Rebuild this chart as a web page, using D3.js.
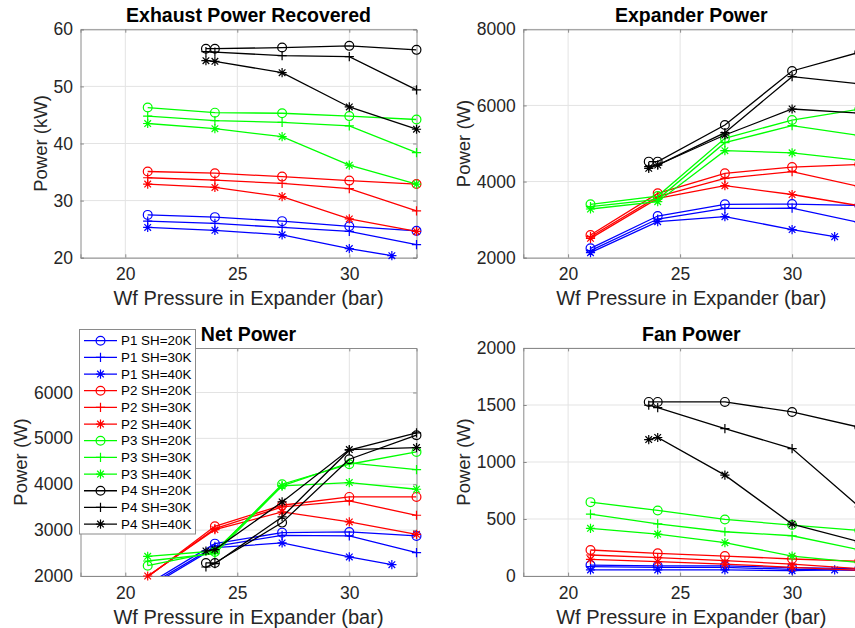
<!DOCTYPE html>
<html><head><meta charset="utf-8">
<script src="https://cdn.jsdelivr.net/npm/d3@7"></script>
<style>body{margin:0;background:#fff}svg{display:block}</style>
</head><body><svg id="c" width="855" height="628"></svg>
<script>
// ---------------- DATA ----------------
const seriesNames = ["P1 SH=20K","P1 SH=30K","P1 SH=40K","P2 SH=20K","P2 SH=30K","P2 SH=40K",
                     "P3 SH=20K","P3 SH=30K","P3 SH=40K","P4 SH=20K","P4 SH=30K","P4 SH=40K"];
const groupColors = ["#0000ff","#ff0000","#00ff00","#000000"];
const markerTypes = ["circle","plus","star"];
const xTicks = [20,25,30];
const xStd = [21,24,27,30,33];
const xP4 = [23.6,24,27,30,33];
const xP1SH40 = [21,24,27,30,31.9];

// Exhaust Power Recovered (kW) ; rows: SH=20K, 30K, 40K
const exhaustP1 = [[27.5,27.1,26.4,25.5,24.7],[26.4,26.0,25.3,24.6,22.3],[25.3,24.8,24.0,21.6,20.35]];
const exhaustP2 = [[35.1,34.8,34.2,33.5,32.9],[34.0,33.6,33.0,32.1,28.2],[32.9,32.3,30.7,26.8,24.6]];
const exhaustP3 = [[46.3,45.4,45.3,44.8,44.2],[44.8,44.0,43.7,43.1,38.4],[43.5,42.6,41.2,36.2,32.9]];
const exhaustP4 = [[56.6,56.6,56.8,57.1,56.4],[56.1,56.0,55.4,55.2,49.4],[54.5,54.4,52.4,46.4,42.5]];
const exhaustTicks = [20,30,40,50,60];

// Expander Power (W)
const expanderP1 = [[2245,3095,3401,3410,3370],[2184,3016,3296,3300,2925],[2131,2946,3077,2740,2552]];
const expanderP2 = [[2596,3690,4216,4380,4450],[2552,3603,4085,4260,3866],[2508,3559,3892,3660,3366]];
const expanderP3 = [[3401,3620,5136,5617,5900],[3340,3533,5022,5468,5208],[3279,3471,4812,4755,4556]];
const expanderP4 = [[4523,4523,5486,6905,7395],[4391,4435,5285,6756,6570],[4347,4435,5223,5906,5800]];
const expanderTicks = [2000,4000,6000,8000];

// Net Power (W)
const netP1 = [[1820,2705,2945,2960,2873],[1780,2647,2887,2873,2509],[1740,2618,2720,2415,2247]];
const netP2 = [[1980,3084,3542,3724,3724],[1990,3033,3505,3636,3324],[2000,3011,3396,3178,2909]];
const netP3 = [[2225,2524,4000,4436,4705],[2327,2487,3964,4465,4320],[2429,2545,3964,4036,3891]];
const netP4 = [[2284,2284,3164,4545,5069],[2196,2269,3287,4742,5120],[2545,2575,3615,4756,4800]];
const netTicks = [2000,3000,4000,5000,6000];

// Fan Power (W)
const fanP1 = [[96,88,88,73,65],[82,76,76,58,50],[53,53,53,47,53]];
const fanP2 = [[228,199,175,149,130],[184,161,134,105,65],[146,126,105,76,50]];
const fanP3 = [[648,575,496,447,400],[543,458,388,353,230],[418,368,292,175,118]];
const fanP4 = [[1527,1527,1527,1439,1305],[1498,1477,1293,1118,606],[1197,1215,885,455,300]];
const fanTicks = [0,500,1000,1500,2000];

// ---------------- LAYOUT ----------------
const svg = d3.select("#c");
const FONT = "'Liberation Sans', Arial, Helvetica, sans-serif";
const xDomain = [18,33];
const cols = [[80.5,416.5],[523.3,859.3]];
const rows = [[29.3,257.7],[348,576]];

function xsFor(g, k){ if(g===3) return xP4; if(g===0 && k===2) return xP1SH40; return xStd; }

const panels = [
  {title:"Exhaust Power Recovered", ylabel:"Power (kW)", ydom:[20,60], ticks:exhaustTicks, data:[exhaustP1,exhaustP2,exhaustP3,exhaustP4], c:0, r:0, ylx:40.7},
  {title:"Expander Power", ylabel:"Power (W)", ydom:[2000,8000], ticks:expanderTicks, data:[expanderP1,expanderP2,expanderP3,expanderP4], c:1, r:0, ylx:463},
  {title:"Net Power", ylabel:"Power (W)", ydom:[2000,6970], ticks:netTicks, data:[netP1,netP2,netP3,netP4], c:0, r:1, ylx:20.5},
  {title:"Fan Power", ylabel:"Power (W)", ydom:[0,2000], ticks:fanTicks, data:[fanP1,fanP2,fanP3,fanP4], c:1, r:1, ylx:463}
];

function markerPath(type, s){
  const a = s, d = s*0.72;
  if(type==="plus") return `M${-a},0L${a},0M0,${-a}L0,${a}`;
  if(type==="star") return `M${-a},0L${a},0M0,${-a}L0,${a}M${-d},${-d}L${d},${d}M${-d},${d}L${d},${-d}`;
  return null;
}
function drawMarker(g, type, color, cx, cy){
  if(type==="circle"){
    g.append("circle").attr("cx",cx).attr("cy",cy).attr("r",4.4)
      .attr("fill","none").attr("stroke",color).attr("stroke-width",1.2);
  } else {
    g.append("path").attr("d",markerPath(type,4.6)).attr("transform",`translate(${cx},${cy})`)
      .attr("fill","none").attr("stroke",color).attr("stroke-width",1.2);
  }
}

const defs = svg.append("defs");
panels.forEach((p,pi)=>{
  const [x0,x1] = cols[p.c], [y0,y1] = rows[p.r];
  const x = d3.scaleLinear().domain(xDomain).range([x0,x1]);
  const y = d3.scaleLinear().domain(p.ydom).range([y1,y0]);
  const g = svg.append("g");
  defs.append("clipPath").attr("id","clip"+pi).append("rect")
    .attr("x",x0).attr("y",y0).attr("width",x1-x0).attr("height",y1-y0);

  // grid
  g.append("g").selectAll("line").data(xTicks).join("line")
    .attr("x1",d=>x(d)).attr("x2",d=>x(d)).attr("y1",y0).attr("y2",y1)
    .attr("stroke","#e3e3e3").attr("stroke-width",1);
  g.append("g").selectAll("line").data(p.ticks).join("line")
    .attr("x1",x0).attr("x2",x1).attr("y1",d=>y(d)).attr("y2",d=>y(d))
    .attr("stroke","#e3e3e3").attr("stroke-width",1);

  // axes via d3 axis (inner ticks)
  const axB = d3.axisBottom(x).tickValues(xTicks).tickSize(-3.4).tickPadding(7).tickFormat(d3.format("d"));
  const axL = d3.axisLeft(y).tickValues(p.ticks).tickSize(-3.4).tickPadding(7.5).tickFormat(d3.format("d"));
  const axT = d3.axisTop(x).tickValues(xTicks).tickSize(-3.4).tickFormat("");
  const axR = d3.axisRight(y).tickValues(p.ticks).tickSize(-3.4).tickFormat("");
  const style = sel => {
    sel.selectAll("path.domain").attr("stroke","#8a8a8a").attr("stroke-width",1);
    sel.selectAll(".tick line").attr("stroke","#8a8a8a");
    sel.selectAll(".tick text").attr("fill","#262626").attr("font-family",FONT).attr("font-size",17.5);
  };
  g.append("g").attr("transform",`translate(0,${y1})`).call(axB).call(style)
    .selectAll(".tick text").attr("dy","0.9em");
  g.append("g").attr("transform",`translate(${x0},0)`).call(axL).call(style);
  g.append("g").attr("transform",`translate(0,${y0})`).call(axT).call(style);
  g.append("g").attr("transform",`translate(${x1},0)`).call(axR).call(style);

  // series
  const sg = g.append("g");
  p.data.forEach((grp,gi)=>{
    grp.forEach((vals,k)=>{
      const xs = xsFor(gi,k);
      const pts = vals.map((v,i)=>[xs[i],v]);
      const color = groupColors[gi];
      sg.append("path").datum(pts)
        .attr("clip-path",`url(#clip${pi})`)
        .attr("d",d3.line().x(d=>x(d[0])).y(d=>y(d[1])))
        .attr("fill","none").attr("stroke",color).attr("stroke-width",1.3);
      const mg = sg.append("g");
      pts.forEach(d=>{
        if(d[1] < p.ydom[0]-1e-9 || d[1] > p.ydom[1] || d[0] > xDomain[1]) return;
        drawMarker(mg, markerTypes[k], color, x(d[0]), y(d[1]));
      });
    });
  });

  // title
  g.append("text").attr("x",(x0+x1)/2).attr("y",y0-7).attr("text-anchor","middle")
    .attr("font-family",FONT).attr("font-weight","bold").attr("font-size",19.5).attr("fill","#000")
    .text(p.title);
  // x label
  g.append("text").attr("x",(x0+x1)/2).attr("y",y1+47.5).attr("text-anchor","middle")
    .attr("font-family",FONT).attr("font-size",20).attr("fill","#262626")
    .text("Wf Pressure in Expander (bar)");
  // y label
  g.append("text").attr("transform",`translate(${p.ylx},${(y0+y1)/2}) rotate(-90)`)
    .attr("text-anchor","middle").attr("dominant-baseline","central")
    .attr("font-family",FONT).attr("font-size",18.5).attr("fill","#262626")
    .text(p.ylabel);
});

// ---------------- LEGEND ----------------
const lg = svg.append("g");
lg.append("rect").attr("x",79.5).attr("y",329.5).attr("width",116).attr("height",204.5)
  .attr("fill","#fff").attr("stroke","#8a8a8a").attr("stroke-width",1);
seriesNames.forEach((name,i)=>{
  const gi = Math.floor(i/3), k = i%3;
  const cy = 340.7 + i*16.67;
  const color = groupColors[gi];
  lg.append("line").attr("x1",84).attr("x2",117).attr("y1",cy).attr("y2",cy)
    .attr("stroke",color).attr("stroke-width",1.3);
  drawMarker(lg, markerTypes[k], color, 100.5, cy);
  lg.append("text").attr("x",121).attr("y",cy).attr("dominant-baseline","central")
    .attr("font-family",FONT).attr("font-size",13.4).attr("fill","#000").text(name);
});
</script></body></html>
